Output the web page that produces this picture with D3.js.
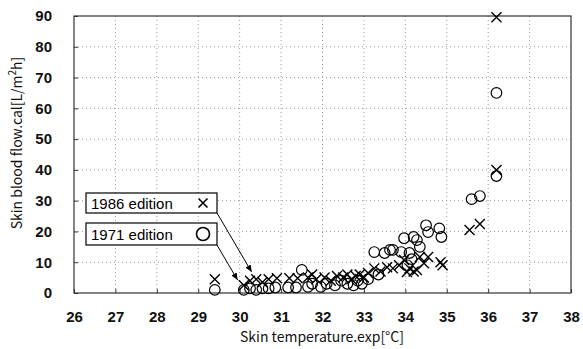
<!DOCTYPE html>
<html>
<head>
<meta charset="utf-8">
<script src="https://cdn.jsdelivr.net/npm/d3@7/dist/d3.min.js"></script>
<style>
  body { margin: 0; background: #fff; }
  svg { display: block; font-family: "Noto Sans CJK JP", "DejaVu Sans", sans-serif; }
</style>
</head>
<body>
<svg id="chart" width="583" height="349"></svg>
<script>
// 1986 edition (crosses)
const x1986 = [29.4, 30.1, 30.25, 30.4, 30.55, 30.7, 30.9, 31.2, 31.4, 31.65, 31.75, 31.85, 32.05, 32.2, 32.35, 32.5, 32.6, 32.7, 32.8, 32.9, 33.0, 33.1, 33.25, 33.4, 33.56, 33.7, 33.85, 33.97, 34.04, 34.1, 34.2, 34.28, 34.35, 34.45, 34.55, 34.85, 34.9, 35.55, 35.8, 36.2, 36.2]
const y1986 = [4.5, 2.5, 4, 4.5, 3.5, 4.5, 4.8, 4.8, 4.8, 5, 6, 4.5, 5, 4, 5.5, 5, 6, 4.5, 5.5, 6, 5, 6.5, 8, 7, 8.4, 8, 9, 10.7, 6.8, 8, 7, 7.5, 11.7, 9.7, 11.7, 10, 9, 20.5, 22.4, 40, 89.6]
// 1971 edition (circles)
const x1971 = [29.4, 30.1, 30.25, 30.4, 30.55, 30.7, 30.86, 31.17, 31.36, 31.5, 31.65, 31.75, 31.96, 32.1, 32.3, 32.45, 32.6, 32.75, 32.85, 32.95, 33.1, 33.25, 33.35, 33.5, 33.63, 33.7, 33.9, 33.97, 34.05, 34.1, 34.15, 34.2, 34.28, 34.35, 34.5, 34.55, 34.82, 34.87, 35.6, 35.8, 36.2, 36.2]
const y1971 = [1, 1, 1.5, 1, 1.5, 1.5, 1.8, 1.8, 1.8, 7.5, 2, 3, 2, 3, 2.5, 4, 3, 2.5, 4, 3, 4.5, 13.3, 6, 13, 14, 14, 13.3, 17.8, 9, 13, 11, 18.2, 17.2, 15, 22, 19.8, 21, 18.2, 30.5, 31.5, 38, 65]

const xTicks = d3.range(26, 39, 1)
const yTicks = d3.range(0, 91, 10)

const svg = d3.select('#chart')
const mLeft = 74, mRight = 571, mTop = 16, mBottom = 293

const x = d3.scaleLinear().domain([26, 38]).range([mLeft, mRight])
const y = d3.scaleLinear().domain([0, 90]).range([mBottom, mTop])

// grid
svg.append('g').selectAll('line').data(xTicks.slice(1, -1)).join('line')
  .attr('x1', d => x(d)).attr('x2', d => x(d)).attr('y1', mTop).attr('y2', mBottom)
  .attr('stroke', '#999').attr('stroke-dasharray', '1,3')
svg.append('g').selectAll('line').data(yTicks.slice(1, -1)).join('line')
  .attr('x1', mLeft).attr('x2', mRight).attr('y1', d => y(d)).attr('y2', d => y(d))
  .attr('stroke', '#999').attr('stroke-dasharray', '1,3')

// axes
const xAxis = svg.append('g').attr('transform', `translate(0,${mBottom})`)
  .call(d3.axisBottom(x).tickValues(xTicks).tickSize(-4).tickPadding(18))
const yAxis = svg.append('g').attr('transform', `translate(${mLeft},0)`)
  .call(d3.axisLeft(y).tickValues(yTicks).tickSize(-4).tickPadding(22))
for (const ax of [xAxis, yAxis]) {
  ax.select('.domain').remove()
  ax.selectAll('line').attr('stroke', '#333')
  ax.selectAll('text').attr('font-size', 15).attr('font-weight', 'bold').attr('fill', '#111')
    .attr('font-family', '"Liberation Sans", sans-serif')
}

svg.append('rect').attr('x', mLeft).attr('y', mTop)
  .attr('width', mRight - mLeft).attr('height', mBottom - mTop)
  .attr('fill', 'none').attr('stroke', '#333').attr('stroke-width', 1.2)

// axis titles
svg.append('text').attr('x', 322).attr('y', 342).attr('text-anchor', 'middle')
  .attr('font-size', 14).attr('fill', '#111').text('Skin temperature.exp[°C]')
const yt = svg.append('text').attr('transform', 'translate(22,143) rotate(-90)')
  .attr('text-anchor', 'middle').attr('font-size', 14).attr('fill', '#111')
yt.append('tspan').text('Skin blood flow.cal[L/m')
yt.append('tspan').attr('font-size', 10).attr('dy', -6).text('2')
yt.append('tspan').attr('dy', 6).text('h]')

// marks
const circles = d3.zip(x1971, y1971)
svg.append('g').selectAll('circle').data(circles).join('circle')
  .attr('cx', d => x(d[0])).attr('cy', d => y(d[1])).attr('r', 5.3)
  .attr('fill', 'none').attr('stroke', '#000').attr('stroke-width', 1.2)

const crosses = d3.zip(x1986, y1986)
const s = 5
svg.append('g').selectAll('path').data(crosses).join('path')
  .attr('d', d => {
    const cx = x(d[0]), cy = y(d[1])
    return `M${cx - s},${cy - s}L${cx + s},${cy + s}M${cx - s},${cy + s}L${cx + s},${cy - s}`
  })
  .attr('stroke', '#000').attr('stroke-width', 1.4).attr('fill', 'none')

// legend boxes with arrows
const defs = svg.append('defs')
defs.append('marker').attr('id', 'arr').attr('viewBox', '0 -4 8 8')
  .attr('refX', 8).attr('refY', 0).attr('markerWidth', 7).attr('markerHeight', 7)
  .attr('orient', 'auto').append('path').attr('d', 'M0,-3.5L8,0L0,3.5Z').attr('fill', '#000')

const legend = [
  { label: '1986 edition', sym: 'x', by: 193, bh: 20, tx: 30.29, ty: 6.8 },
  { label: '1971 edition', sym: 'o', by: 223, bh: 22, tx: 29.95, ty: 4.2 }
]
legend.forEach(l => {
  svg.append('line').attr('x1', 217).attr('y1', l.by + l.bh).attr('x2', x(l.tx)).attr('y2', y(l.ty))
    .attr('stroke', '#000').attr('stroke-width', 1).attr('marker-end', 'url(#arr)')
  svg.append('rect').attr('x', 86).attr('y', l.by).attr('width', 131).attr('height', l.bh)
    .attr('fill', '#fff').attr('stroke', '#000').attr('stroke-width', 1.2)
  svg.append('text').attr('x', 91).attr('y', l.by + l.bh / 2 + 5.5).attr('font-size', 15)
    .attr('fill', '#000').attr('font-family', '"Liberation Sans", sans-serif').text(l.label)
  const cx = 203, cy = l.by + l.bh / 2
  if (l.sym === 'x') {
    svg.append('path').attr('d', `M${cx - 4.5},${cy - 4.5}L${cx + 4.5},${cy + 4.5}M${cx - 4.5},${cy + 4.5}L${cx + 4.5},${cy - 4.5}`)
      .attr('stroke', '#000').attr('stroke-width', 1.6)
  } else {
    svg.append('circle').attr('cx', cx).attr('cy', cy).attr('r', 6.5)
      .attr('fill', 'none').attr('stroke', '#000').attr('stroke-width', 1.6)
  }
})
</script>
</body>
</html>
